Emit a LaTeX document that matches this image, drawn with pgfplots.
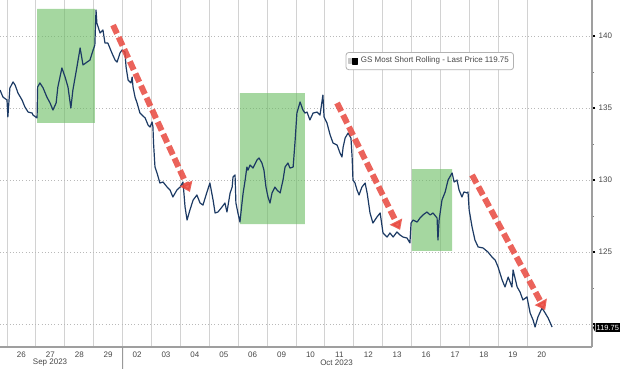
\documentclass[border=0pt]{standalone}
\usepackage{fontspec}
\setmainfont{Liberation Sans}
\usepackage{pgfplots}
\pgfplotsset{compat=1.18}
\usetikzlibrary{arrows.meta}
\definecolor{gsline}{RGB}{28,58,100}
\definecolor{boxgreen}{RGB}{105,188,97}
\definecolor{arrowred}{RGB}{232,72,62}
\definecolor{gridgray}{RGB}{210,210,210}
\definecolor{labgray}{RGB}{70,70,70}
\begin{document}
\begin{tikzpicture}
\begin{axis}[
  scale only axis, width=444pt, height=260.25pt,
  xmin=-0.242, xmax=20.24, ymin=118.4, ymax=142.5,
  clip mode=individual,
  axis x line*=bottom, axis y line*=right,
  axis line style={draw=gray!75, line width=0.8pt},
  /pgf/number format/assume math mode=true,
  xtick={0.5,1.5,...,18.5},
  xticklabels={26,27,28,29,02,03,04,05,06,09,10,11,12,13,16,17,18,19,20},
  minor xtick={0,1,...,18},
  xminorgrids, minor x grid style={gridgray, line width=0.7pt},
  major x tick style={draw=none}, minor x tick style={draw=none},
  ytick={120,125,130,135,140},
  yticklabels={,125,130,135,140},
  minor ytick={122.5,127.5,132.5,137.5},
  ymajorgrids, major y grid style={gray!55, dotted, line width=0.7pt},
  tick align=outside, major tick length=2.5pt, minor tick length=1.5pt,
  major y tick style={black, line width=1pt},
  minor y tick style={gray, line width=0.5pt},
  ticklabel style={font=\fontsize{6}{7}\selectfont, text=labgray},
  xticklabel style={yshift=2.5pt},
  yticklabel style={xshift=-1pt},
  legend style={at={(0.726,0.824)}, anchor=center, draw=gray!60,
    rounded corners=2pt, line width=0.6pt, inner sep=1.5pt,
    font=\fontsize{6}{7}\selectfont, text=labgray},
  legend cell align=left,
]
\coordinate (O) at (rel axis cs:0,0);
% green highlight boxes
\addplot[fill=boxgreen, fill opacity=0.6, draw=none, forget plot] coordinates {(1.04,133.96)(3.04,133.96)(3.04,141.88)(1.04,141.88)(1.04,133.96)};
\addplot[fill=boxgreen, fill opacity=0.6, draw=none, forget plot] coordinates {(8.06,126.94)(10.31,126.94)(10.31,136.04)(8.06,136.04)(8.06,126.94)};
\addplot[fill=boxgreen, fill opacity=0.6, draw=none, forget plot] coordinates {(14.01,125.07)(15.40,125.07)(15.40,130.76)(14.01,130.76)(14.01,125.07)};
\addplot[gsline, line width=0.9pt, line join=round,
  legend image code/.code={\fill[gray!45, sharp corners] (0pt,-1.5pt) rectangle (2pt,1.5pt);
  \fill[black, sharp corners] (2.6pt,-2.2pt) rectangle (6.8pt,2.2pt);}] coordinates {
(-0.24,136.25)(-0.14,135.76)(0,135.56)(0.03,134.38)(0.10,136.39)(0.21,136.81)(0.28,136.60)(0.38,136.04)(0.52,135.56)(0.62,135.07)(0.73,134.72)(0.87,134.65)(0.90,134.51)(1.04,134.31)(1.06,136.46)(1.14,136.74)(1.25,136.39)(1.38,135.76)(1.49,135.35)(1.59,134.86)(1.70,135.35)(1.76,136.46)(1.90,137.78)(2.01,137.15)(2.11,136.46)(2.21,135.00)(2.28,136.25)(2.42,137.85)(2.53,139.17)(2.63,137.99)(2.77,138.19)(2.87,138.33)(2.98,139.03)(3.04,139.38)(3.08,141.81)(3.11,140.90)(3.22,140.21)(3.32,140.42)(3.39,139.51)(3.49,139.51)(3.63,138.82)(3.74,138.33)(3.81,138.19)(3.91,138.82)(3.98,139.03)(4.08,138.89)(4.12,137.85)(4.19,136.94)(4.29,136.74)(4.33,137.15)(4.36,136.46)(4.43,135.76)(4.50,135.35)(4.60,134.65)(4.67,134.51)(4.78,134.31)(4.88,133.82)(4.95,133.68)(5.02,134.03)(5.05,133.68)(5.07,132.57)(5.12,130.90)(5.19,130.49)(5.29,129.79)(5.40,129.86)(5.54,129.51)(5.64,129.31)(5.74,128.82)(5.88,129.31)(5.99,129.51)(6.09,129.86)(6.16,128.13)(6.23,127.22)(6.33,127.92)(6.44,128.61)(6.57,128.96)(6.68,128.40)(6.78,128.26)(6.92,129.17)(7.02,129.79)(7.13,128.61)(7.20,127.71)(7.30,127.78)(7.44,128.13)(7.54,128.40)(7.61,127.78)(7.65,128.26)(7.72,129.10)(7.79,129.51)(7.82,130.21)(7.89,130.35)(7.92,128.40)(7.99,127.71)(8.06,127.08)(8.13,128.40)(8.17,129.10)(8.24,130.00)(8.30,130.90)(8.34,130.69)(8.41,131.04)(8.51,130.83)(8.65,131.39)(8.72,131.53)(8.82,131.18)(8.89,130.69)(8.96,129.51)(9.03,128.82)(9.10,128.40)(9.17,129.10)(9.27,129.51)(9.34,129.31)(9.45,129.10)(9.55,130.00)(9.62,130.90)(9.72,131.18)(9.79,130.83)(9.90,130.90)(9.97,132.78)(10.03,134.65)(10.14,135.42)(10.24,134.86)(10.31,134.65)(10.38,134.72)(10.48,134.17)(10.59,134.65)(10.73,134.72)(10.83,134.51)(10.93,135.90)(10.97,134.38)(11.07,133.96)(11.18,133.13)(11.28,132.57)(11.42,132.43)(11.52,131.88)(11.59,131.60)(11.63,132.29)(11.70,132.92)(11.80,133.26)(11.90,132.92)(11.94,131.60)(11.97,130.00)(12.04,129.79)(12.11,129.31)(12.18,128.96)(12.28,129.51)(12.39,129.79)(12.46,129.10)(12.56,127.71)(12.66,127.01)(12.80,127.43)(12.91,127.71)(12.98,126.74)(13.01,126.32)(13.15,126.04)(13.25,126.32)(13.36,126.04)(13.49,126.39)(13.60,126.18)(13.70,126.04)(13.84,125.97)(13.94,125.63)(13.98,127.01)(14.05,127.22)(14.19,127.08)(14.29,127.36)(14.39,127.57)(14.53,127.78)(14.64,127.57)(14.74,127.71)(14.88,127.36)(14.91,125.83)(14.95,127.22)(15.05,128.61)(15.16,129.17)(15.26,130.00)(15.40,130.49)(15.47,129.86)(15.57,130.00)(15.64,129.31)(15.74,128.82)(15.81,129.17)(15.92,129.10)(15.95,129.17)(15.99,127.92)(16.09,126.74)(16.19,125.83)(16.30,125.35)(16.47,125.28)(16.64,125.00)(16.78,124.65)(16.89,124.44)(16.99,123.96)(17.13,123.06)(17.23,122.57)(17.34,123.26)(17.47,122.57)(17.51,123.75)(17.65,122.57)(17.75,122.22)(17.85,121.67)(17.99,121.88)(18.10,120.76)(18.20,120.28)(18.27,119.79)(18.37,120.49)(18.51,121.11)(18.62,120.76)(18.72,120.42)(18.86,119.79)
};
\addlegendentry{GS Most Short Rolling - Last Price 119.75}
% red dashed arrows
\addplot[arrowred, opacity=0.85, line width=4.5pt, dash pattern=on 7pt off 3pt, -{Triangle[width=10pt,length=7pt]}, forget plot] coordinates {(3.67,140.76)(6.33,129.17)};
\addplot[arrowred, opacity=0.85, line width=4.5pt, dash pattern=on 7pt off 3pt, -{Triangle[width=10pt,length=7pt]}, forget plot] coordinates {(11.42,135.35)(13.60,126.53)};
\addplot[arrowred, opacity=0.85, line width=4.5pt, dash pattern=on 7pt off 3pt, -{Triangle[width=10pt,length=7pt]}, forget plot] coordinates {(16.09,130.35)(18.62,120.97)};
% month separator and labels
\draw[gray!80, line width=0.7pt] (axis cs:4,118.4) -- ++(0,-13pt);
\node[font=\fontsize{6}{7}\selectfont, text=labgray] at ([yshift=-11.5pt]axis cs:1.49,118.4) {Sep 2023};
\node[font=\fontsize{6}{7}\selectfont, text=labgray] at ([yshift=-11.5pt]axis cs:11.4,118.4) {Oct 2023};
% last price tag
\node[fill=black, text=white, inner xsep=0.8pt, inner ysep=1.2pt, anchor=west,
  font=\fontsize{5.6}{6}\selectfont] (tag) at ([xshift=2.5pt]axis cs:20.24,119.75) {119.75};
\fill[black] (tag.north west) -- ([xshift=-1.8pt]tag.west) -- (tag.south west) -- cycle;
\end{axis}
\pgfresetboundingbox
\useasboundingbox (O) ++(0,-15.75pt) rectangle ++(465pt,276pt);
\end{tikzpicture}
\end{document}
